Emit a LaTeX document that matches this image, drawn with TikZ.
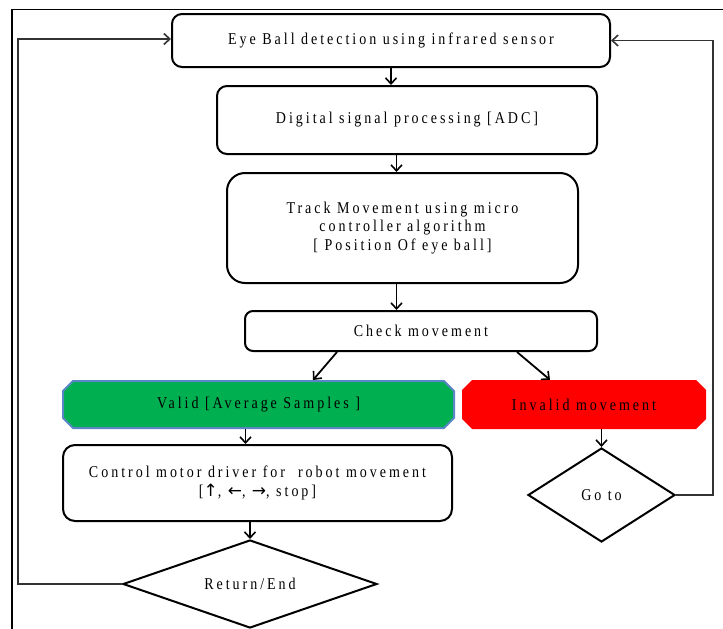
\documentclass[tikz,border=0pt]{standalone}
\usepackage{fontspec}
\setmainfont{Liberation Serif}
\newfontfamily\arrfont{DejaVu Sans}
\usetikzlibrary{arrows.meta,shapes.geometric,shapes.misc}
\definecolor{vgreen}{HTML}{00B050}
\definecolor{vblue}{HTML}{5B86C5}
\definecolor{vred}{HTML}{FF0000}
\newcommand{\arw}[1]{{\arrfont\fontsize{17pt}{18pt}\selectfont #1}}
\tikzset{
  txt/.style={font=\fontsize{16.5pt}{18.5pt}\selectfont\addfontfeature{LetterSpace=18,FakeStretch=0.85}, align=center, text=black},
  rbox/.style={txt, draw=black, line width=2pt, rounded corners=10pt, inner sep=0pt},
  dbox/.style={txt, draw=black, line width=2pt, diamond, inner sep=0pt},
  cbox/.style={txt, chamfered rectangle, chamfered rectangle xsep=5pt, chamfered rectangle ysep=5pt, inner sep=0pt},
  arr/.style={line width=1.8pt, -{Straight Barb[length=6pt,width=11pt,line width=1.6pt]}},
  loopline/.style={line width=1.3pt, draw=black!80},
}
\begin{document}
\begin{tikzpicture}[x=1pt,y=-1pt]
\useasboundingbox (0,0) rectangle (723,629);
\fill[white] (0,0) rectangle (723,629);
% outer frame (top and left edges)
\draw[line width=1.5pt] (12,629) -- (12,9.5) -- (723,9.5);

\node[rbox, minimum width=438pt, minimum height=53pt] (eye) at (391,40.5) {Eye Ball detection using infrared sensor};
\node[rbox, minimum width=380pt, minimum height=68pt] (dsp) at (407,120) {Digital signal processing [ADC]};
\node[rbox, rounded corners=18pt, minimum width=351pt, minimum height=110pt] (track) at (402.5,228) {Track Movement using micro\\controller algorithm\\{[} Position Of eye ball{]}};
\node[rbox, rounded corners=8pt, minimum width=352pt, minimum height=40pt] (check) at (421,331) {Check movement};
\node[cbox, fill=vgreen, draw=vblue, line width=2pt, minimum width=391pt, minimum height=47pt] (valid) at (258.5,404.5) {Valid [Average Samples ]};
\node[cbox, fill=vred, minimum width=244pt, minimum height=49pt] (invalid) at (584,404.5) {Invalid movement};
\node[rbox, rounded corners=12pt, minimum width=389pt, minimum height=76pt] (ctrl) at (257.5,483) {Control motor driver for \ robot movement\\{[}\arw{↑}, \arw{←}, \arw{→}, stop{]}};
\node[dbox, aspect=1.56, minimum width=147pt, minimum height=94pt] (goto) at (601.5,495) {Go to};
\node[dbox, aspect=2.9, minimum width=254pt, minimum height=88pt] (ret) at (250,584) {Return/End};

\coordinate (lx) at (18,0);
\coordinate (rx) at (713,0);

\draw[arr] (eye.south) -- (eye.south |- dsp.north);
\draw[arr] ([xshift=-6pt]track.north |- dsp.south) -- ([xshift=-6pt]track.north);
\draw[arr] ([xshift=-6pt]track.south) -- ([xshift=-6pt]track.south |- check.north);
\draw[arr] ([xshift=-84pt]check.south) -- ([xshift=54.5pt]valid.north);
\draw[arr] ([xshift=96pt]check.south) -- ([xshift=-34pt]invalid.north);
\draw[arr] (goto.north |- invalid.south) -- (goto.north);
\draw[arr] ([xshift=-13pt]valid.south) -- ([xshift=-13pt]valid.south |- ctrl.north);
\draw[arr] (ret.north |- ctrl.south) -- (ret.north);

\draw[loopline, -{Straight Barb[length=6pt,width=11pt,line width=1.6pt]}] (goto.east) -- (goto.east -| rx) |- (eye.east);
\draw[loopline, -{Straight Barb[length=6pt,width=11pt,line width=1.6pt]}] (ret.west) -- (ret.west -| lx) |- ([yshift=1.5pt]eye.west);
\end{tikzpicture}
\end{document}
